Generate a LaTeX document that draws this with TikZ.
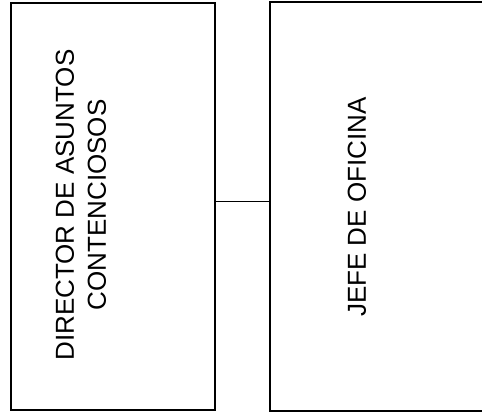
\documentclass[tikz,border=0pt]{standalone}
\usepackage{fontspec}
\setmainfont{Liberation Sans}
\tikzset{
  orgbox/.style={draw, line width=1.3pt, rectangle, inner sep=0pt},
  orglabel/.style={rotate=90, align=center, inner sep=0pt,
    font=\fontsize{26pt}{32pt}\selectfont}
}
\begin{document}
\begin{tikzpicture}[x=1pt, y=1pt, line width=1.3pt]
  \useasboundingbox (0,0) rectangle (482,413);
  \node[orgbox, minimum width=204pt, minimum height=407pt] (director) at (113,206.5) {};
  \node[orgbox, minimum width=240pt, minimum height=409pt] (jefe) at (390,206.5) {};
  \node[orglabel] (directortext) at (81,208) {DIRECTOR DE ASUNTOS\\CONTENCIOSOS};
  \node[orglabel] (jefetext) at (357,206) {JEFE DE OFICINA};
  \draw ([yshift=4.8pt]director.east) -- ([yshift=4.8pt]director.east -| jefe.west);
\end{tikzpicture}
\end{document}
